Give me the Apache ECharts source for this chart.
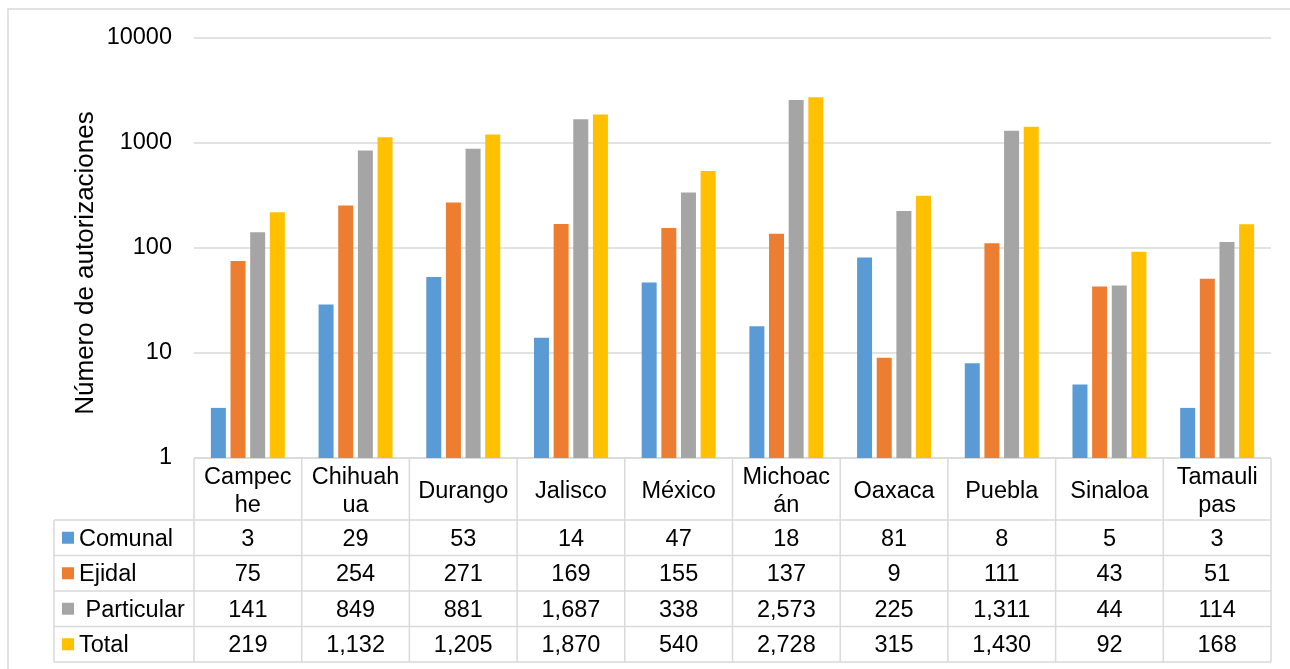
<!DOCTYPE html>
<html>
<head>
<meta charset="utf-8">
<script src="https://cdn.jsdelivr.net/npm/echarts@6/dist/echarts.min.js"></script>
<style>
  html, body { margin: 0; padding: 0; background: #ffffff; }
  #chart { width: 1290px; height: 669px; }
</style>
</head>
<body>
<div id="chart"></div>
<script>
// Authorizations per state, by type of land tenure
const states = ['Campeche', 'Chihuahua', 'Durango', 'Jalisco', 'México', 'Michoacán', 'Oaxaca', 'Puebla', 'Sinaloa', 'Tamaulipas'];
const seriesNames = ['Comunal', 'Ejidal', 'Particular', 'Total'];
const rowLabels = ['Comunal', 'Ejidal', ' Particular', 'Total'];
const comunal    = [3, 29, 53, 14, 47, 18, 81, 8, 5, 3];
const ejidal     = [75, 254, 271, 169, 155, 137, 9, 111, 43, 51];
const particular = [141, 849, 881, 1687, 338, 2573, 225, 1311, 44, 114];
const total      = [219, 1132, 1205, 1870, 540, 2728, 315, 1430, 92, 168];
const yTicks = [1, 10, 100, 1000, 10000];
const yTitle = 'Número de autorizaciones';

const seriesData = [comunal, ejidal, particular, total];
const colors = ['#5B9BD5', '#ED7D31', '#A5A5A5', '#FFC000'];
const FONT = '"Liberation Sans", Arial, Helvetica, sans-serif';
const FS = 23.5;
const LINE = '#d9d9d9';

const chart = echarts.init(document.getElementById('chart'), null, { renderer: 'canvas' });

chart.setOption({
  animation: false,
  backgroundColor: '#ffffff',
  textStyle: { fontFamily: FONT },
  grid: { left: 194, right: 19, top: 38, bottom: 211, containLabel: false },
  xAxis: {
    type: 'category',
    data: states,
    axisLine: { show: false },
    axisTick: { show: false },
    axisLabel: { show: false },
    splitLine: { show: false }
  },
  yAxis: {
    type: 'log',
    logBase: 10,
    min: yTicks[0],
    max: yTicks[yTicks.length - 1],
    axisLine: { show: false },
    axisTick: { show: false },
    axisLabel: {
      fontSize: FS,
      fontFamily: FONT,
      color: '#000000',
      margin: 22,
      formatter: v => String(v)
    },
    splitLine: { show: true, lineStyle: { color: LINE, width: 1.5 } }
  },
  series: seriesNames.map((name, i) => ({
    name,
    type: 'bar',
    data: seriesData[i],
    barWidth: 15,
    barGap: '31%',
    itemStyle: { color: colors[i] }
  }))
});

// Data table under the plot, aligned with the category bands
function buildTable() {
  const c0 = chart.convertToPixel({ xAxisIndex: 0 }, 0);
  const c1 = chart.convertToPixel({ xAxisIndex: 0 }, 1);
  const bw = c1 - c0;
  const left = c0 - bw / 2;
  const right = left + bw * states.length;
  const top = chart.convertToPixel({ yAxisIndex: 0 }, yTicks[0]);
  const headerH = 62;
  const rowH = 35.5;
  const labelLeft = 54;
  const bottom = top + headerH + rowH * rowLabels.length;

  const els = [];
  const line = (x1, y1, x2, y2) => els.push({
    type: 'line', silent: true,
    shape: { x1, y1, x2, y2 },
    style: { stroke: LINE, lineWidth: 1.5 }
  });
  const text = (x, y, t, align, extra) => els.push({
    type: 'text', silent: true, x, y,
    style: Object.assign({
      text: t, fontSize: FS, fontFamily: FONT, fill: '#000000',
      align, verticalAlign: 'middle'
    }, extra || {})
  });

  // grid lines of the table
  line(left, top, right, top);
  for (let r = 0; r <= rowLabels.length; r++) {
    const y = top + headerH + r * rowH;
    line(labelLeft, y, right, y);
  }
  line(labelLeft, top + headerH, labelLeft, bottom);
  for (let k = 0; k <= states.length; k++) {
    const x = left + k * bw;
    line(x, top, x, bottom);
  }

  // header: state names, wrapped inside the cell
  states.forEach((s, k) => {
    text(left + (k + 0.5) * bw, top + headerH / 2 + 3, s, 'center',
      { width: 93, overflow: 'breakAll', lineHeight: 28 });
  });

  // rows: legend key, series name, values
  rowLabels.forEach((lab, r) => {
    const yc = top + headerH + (r + 0.5) * rowH;
    els.push({
      type: 'rect', silent: true,
      shape: { x: 62, y: yc - 6, width: 12, height: 12 },
      style: { fill: colors[r] }
    });
    text(79, yc + 1.5, lab, 'left');
    seriesData[r].forEach((v, k) => {
      text(left + (k + 0.5) * bw, yc + 1.5, v.toLocaleString('en-US'), 'center');
    });
  });

  // axis title
  els.push({
    type: 'text', silent: true, x: 86, y: 263, rotation: Math.PI / 2,
    style: { text: yTitle, fontSize: 26, fontFamily: FONT, fill: '#000000', align: 'center', verticalAlign: 'middle' }
  });

  // outer frame
  els.push({
    type: 'rect', silent: true,
    shape: { x: 8, y: 9, width: 1300, height: 700 },
    style: { fill: 'none', stroke: LINE, lineWidth: 1.5 }
  });

  chart.setOption({ graphic: { elements: els } });
}
buildTable();
</script>
</body>
</html>
